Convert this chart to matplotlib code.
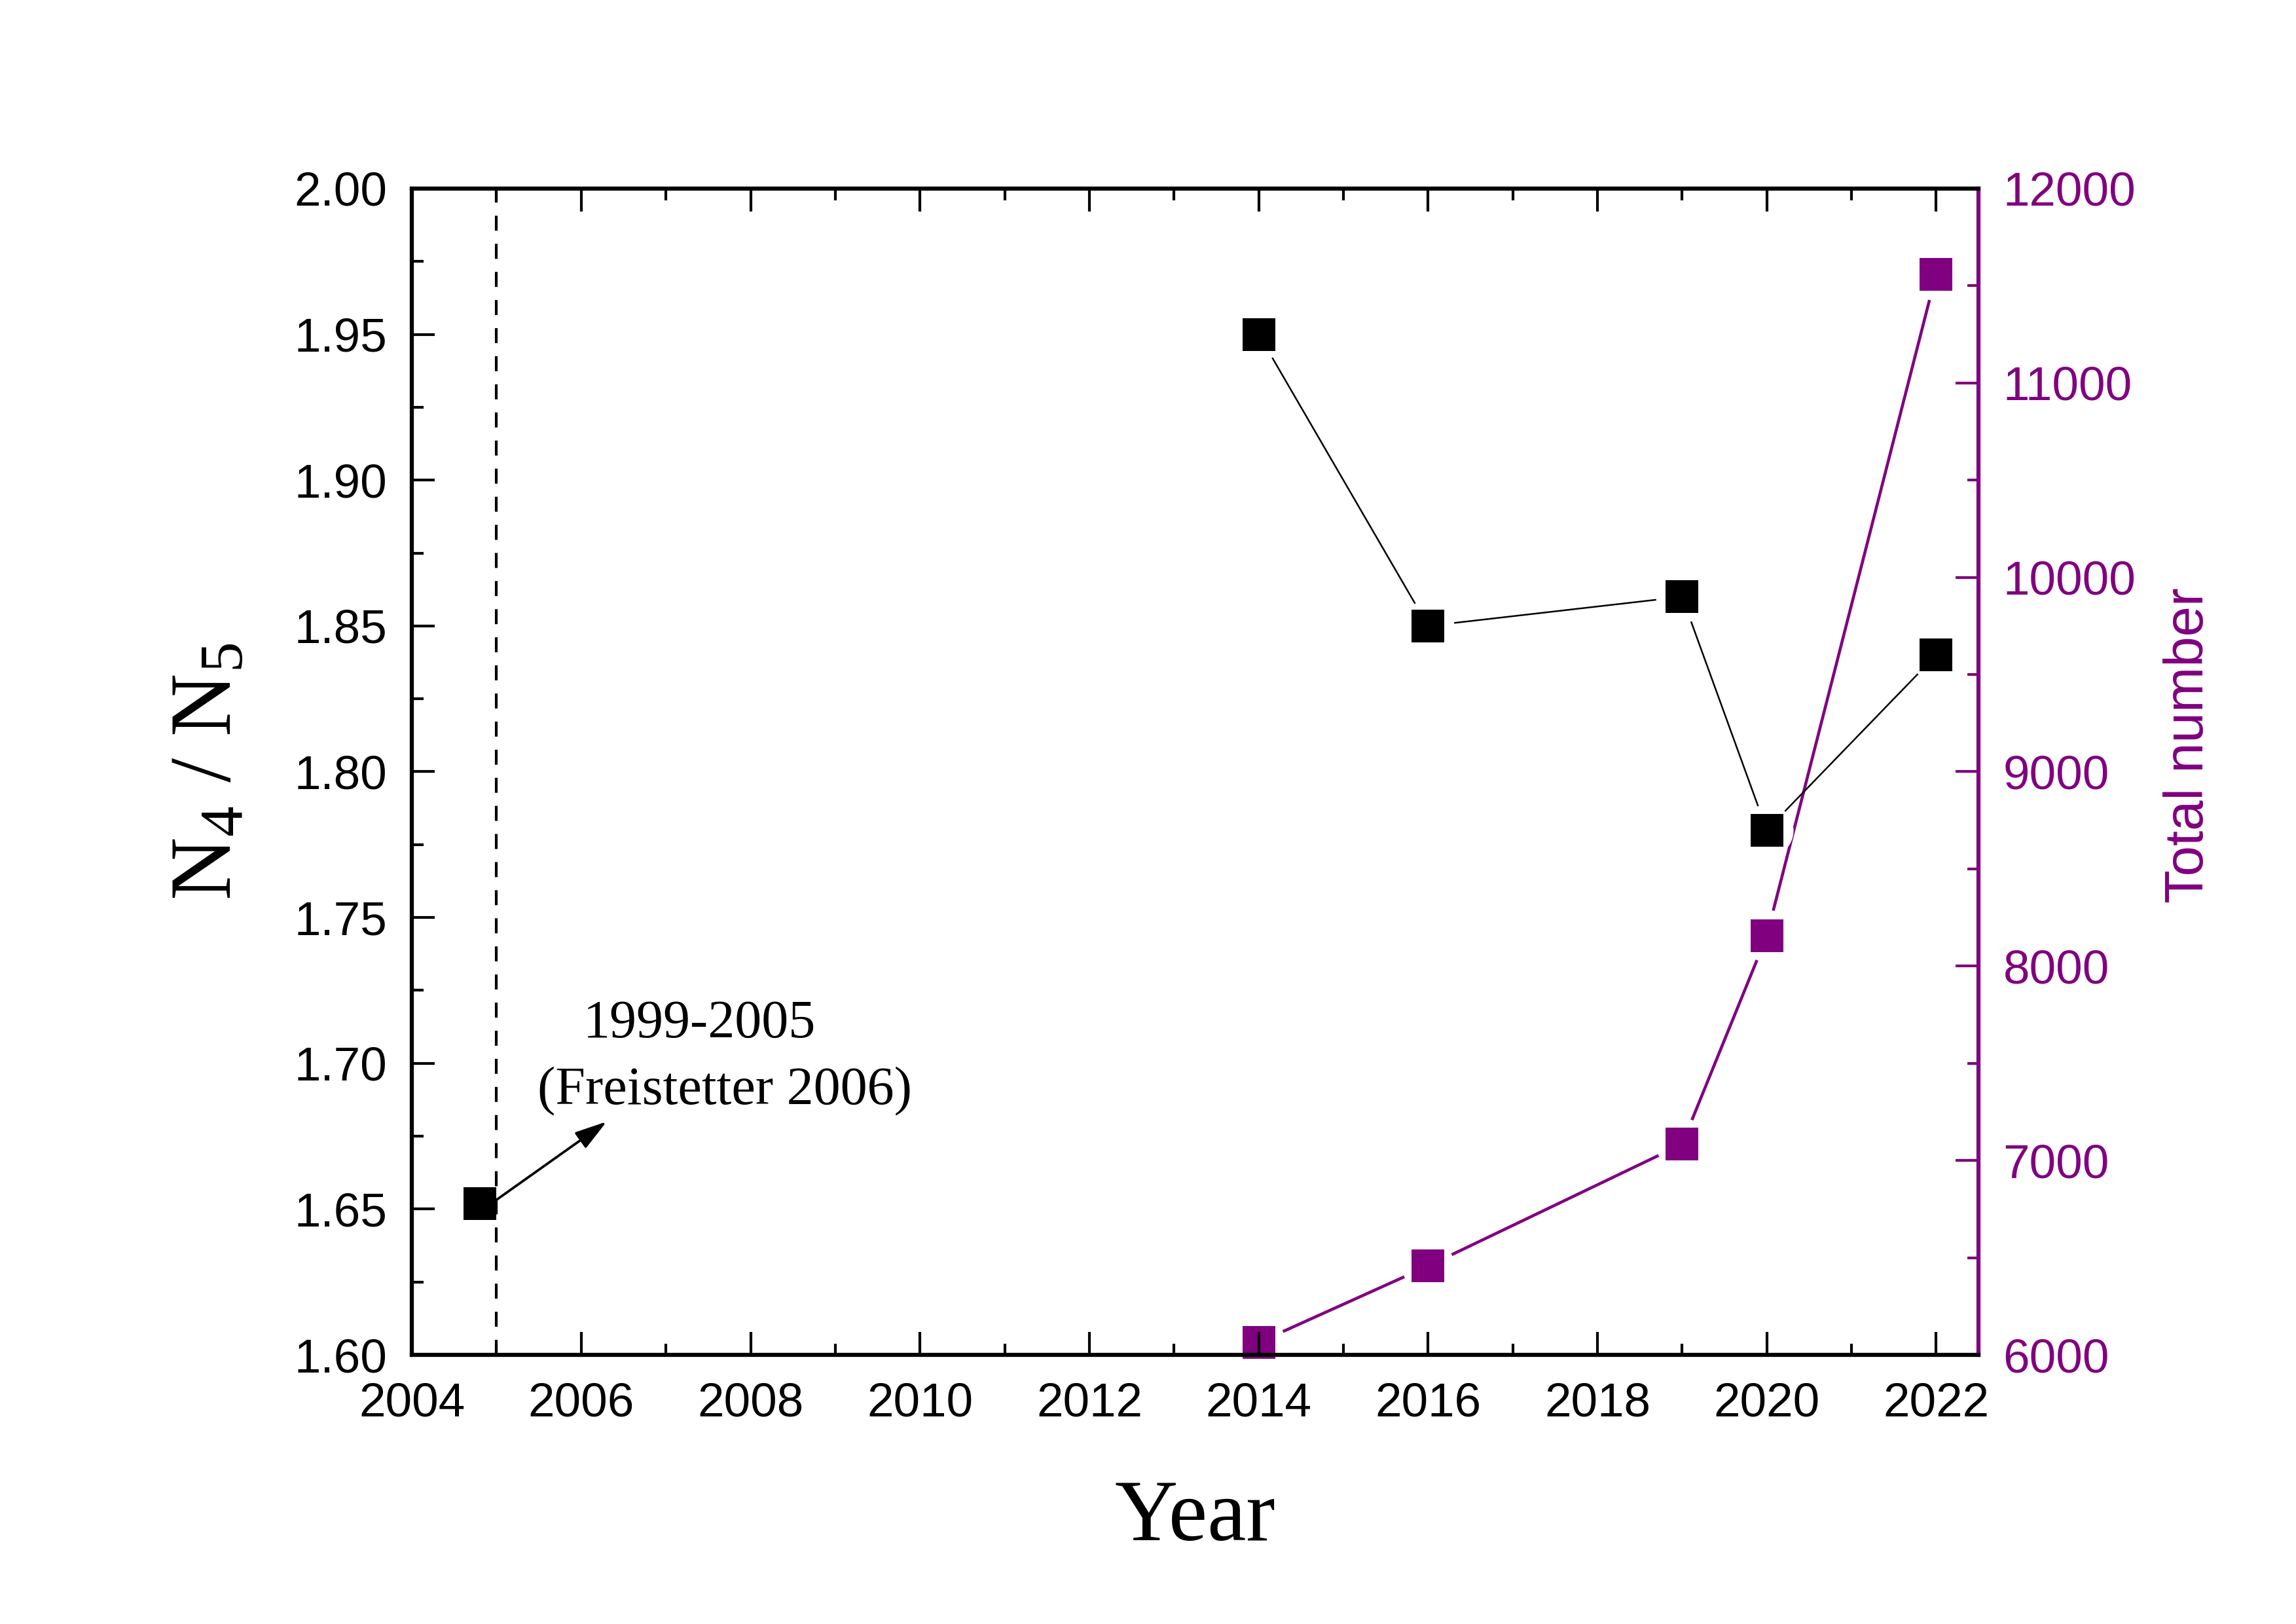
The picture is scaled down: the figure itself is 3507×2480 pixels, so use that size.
import matplotlib
matplotlib.use('Agg')
import matplotlib.pyplot as plt
from matplotlib.ticker import MultipleLocator, FormatStrFormatter

plt.rcParams['font.family'] = 'Liberation Sans'
plt.rcParams['mathtext.fontset'] = 'custom'
plt.rcParams['mathtext.rm'] = 'Liberation Serif'
plt.rcParams['mathtext.it'] = 'Liberation Serif:italic'
plt.rcParams['mathtext.bf'] = 'Liberation Serif:bold'

purple = '#800080'

# N4/N5 ratio per catalogue year
years = [2014, 2016, 2019, 2020, 2022]
ratio = [1.95, 1.85, 1.86, 1.78, 1.84]
# 1999-2005 value (Freistetter 2006)
old_year = [2004.8]
old_ratio = [1.652]
# total number (right axis)
total = [6064, 6457, 7084, 8155, 11560]

fig = plt.figure(figsize=(3507 / 300, 2480 / 300), dpi=300)
ax = fig.add_axes([0.1794, 0.1657, 0.6823, 0.7182])
ax2 = ax.twinx()
# black series on top of the purple one
ax.set_zorder(ax2.get_zorder() + 1)
ax.patch.set_visible(False)

# black: line, white gap round the points, squares
ax.plot(years, ratio, color='black', lw=0.6, zorder=2)
ax.plot(years, ratio, ls='none', marker='o', ms=19.2, mfc='white', mew=0, zorder=2.1)
ax.plot(years, ratio, ls='none', marker='s', ms=12, mfc='black', mew=0, zorder=3, clip_on=False)
ax.plot(old_year, old_ratio, ls='none', marker='s', ms=12, mfc='black', mew=0, zorder=3)
ax.axvline(2005, color='black', lw=1, ls=(0, (5.5, 4.8)), zorder=2.2)

# purple: total number
ax2.plot(years, total, color=purple, lw=1.1, zorder=2)
ax2.plot(years, total, ls='none', marker='o', ms=19.2, mfc='white', mew=0, zorder=2.1)
ax2.plot(years, total, ls='none', marker='s', ms=12, mfc=purple, mew=0, zorder=3, clip_on=False)

# note
ax.annotate('', xy=(2006.3, 1.680), xytext=(2004.99, 1.653),
            arrowprops=dict(arrowstyle='-|>,head_length=0.5,head_width=0.15',
                            mutation_scale=20, lw=0.9, color='black',
                            shrinkA=0, shrinkB=0), zorder=2.3)
ax.text(2006.02, 1.709, '1999-2005', family='Liberation Serif', fontsize=19.7, va='baseline')
ax.text(2005.48, 1.686, '(Freistetter 2006)', family='Liberation Serif', fontsize=19.7, va='baseline')

ax.set_xlim(2004, 2022.5)
ax.set_ylim(1.6, 2.0)
ax2.set_ylim(6000, 12000)

ax.xaxis.set_major_locator(MultipleLocator(2))
ax.xaxis.set_minor_locator(MultipleLocator(1))
ax.yaxis.set_major_locator(MultipleLocator(0.05))
ax.yaxis.set_minor_locator(MultipleLocator(0.025))
ax.yaxis.set_major_formatter(FormatStrFormatter('%.2f'))
ax2.yaxis.set_major_locator(MultipleLocator(1000))
ax2.yaxis.set_minor_locator(MultipleLocator(500))

ax.tick_params(which='both', direction='in', top=True, right=False, width=1)
ax.tick_params(which='major', length=8.5, labelsize=17.5)
ax.tick_params(which='minor', length=4.2)
ax.tick_params(axis='x', pad=10)
ax.tick_params(axis='y', pad=9)
ax2.tick_params(which='both', direction='in', width=1, color=purple, labelcolor=purple)
ax2.tick_params(which='major', length=8.5, labelsize=17.5, pad=9)
ax2.tick_params(which='minor', length=4.2)

for s in ['left', 'top', 'bottom']:
    ax.spines[s].set_linewidth(1.5)
    ax2.spines[s].set_visible(False)
ax.spines['right'].set_visible(False)
ax2.spines['right'].set_color(purple)
ax2.spines['right'].set_linewidth(1.5)

ax.set_xlabel('Year', fontsize=32, family='Liberation Serif')
ax.xaxis.set_label_coords(0.5, -0.1067)
ax.set_ylabel(r'N$_4$ / N$_5$', fontsize=32, family='Liberation Serif')
ax.yaxis.set_label_coords(-0.104, 0.5)
ax2.set_ylabel('Total number', fontsize=20, color=purple)
ax2.yaxis.set_label_coords(1.118, 0.5227)

fig.savefig('out.png', dpi=300)
